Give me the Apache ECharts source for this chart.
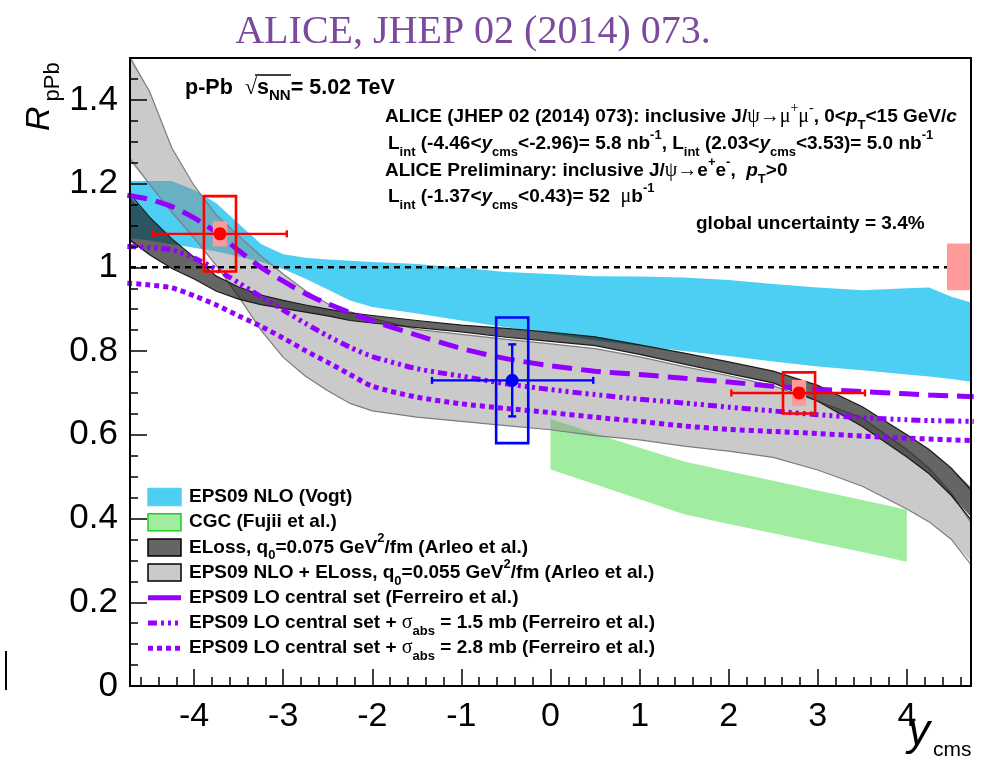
<!DOCTYPE html>
<html>
<head>
<meta charset="utf-8">
<script src="https://cdn.jsdelivr.net/npm/echarts@6/dist/echarts.min.js"></script>
<style>
  html, body { margin: 0; padding: 0; background: #fff; }
  #chart { width: 992px; height: 760px; }
</style>
</head>
<body>
<div id="chart"></div>
<script>
// ---------------------------------------------------------------
// Model predictions for R_pPb of J/psi versus rapidity y_cms
// ---------------------------------------------------------------
const rapidity = [-4.75, -4.5, -4.25, -4.0, -3.75, -3.5, -3.25, -3.0, -2.75, -2.5, -2.25, -2.0,
  -1.5, -1.0, -0.5, 0, 0.5, 1.0, 1.5, 2.0, 2.5, 3.0, 3.5, 4.0, 4.25, 4.5, 4.75];

// EPS09 NLO (Vogt)
const eps09NloUpper = [1.206, 1.206, 1.206, 1.185, 1.153, 1.104, 1.056, 1.031, 1.023, 1.019, 1.016, 1.013,
  1.008, 0.999, 0.989, 0.984, 0.979, 0.978, 0.976, 0.970, 0.960, 0.952, 0.945, 0.950, 0.952, 0.930, 0.914];
const eps09NloLower = [1.070, 1.064, 1.055, 1.047, 1.038, 1.026, 1.013, 0.996, 0.973, 0.947, 0.921, 0.905,
  0.890, 0.873, 0.857, 0.841, 0.825, 0.812, 0.800, 0.788, 0.775, 0.763, 0.754, 0.744, 0.739, 0.733, 0.726];

// ELoss, q0 = 0.075 GeV^2/fm (Arleo et al.)
const elossUpper = [1.175, 1.120, 1.068, 1.024, 0.979, 0.953, 0.934, 0.921, 0.910, 0.900, 0.891, 0.885,
  0.873, 0.862, 0.854, 0.845, 0.834, 0.815, 0.795, 0.774, 0.752, 0.718, 0.667, 0.600, 0.565, 0.520, 0.468];
const elossLower = [1.066, 1.030, 0.997, 0.972, 0.943, 0.924, 0.911, 0.902, 0.893, 0.884, 0.873, 0.867,
  0.856, 0.846, 0.833, 0.823, 0.813, 0.792, 0.769, 0.746, 0.724, 0.680, 0.620, 0.547, 0.507, 0.455, 0.397];

// EPS09 NLO + ELoss, q0 = 0.055 GeV^2/fm (Arleo et al.)
const epsElossUpper = [1.520, 1.420, 1.285, 1.195, 1.125, 1.075, 1.027, 0.984, 0.944, 0.913, 0.894, 0.878,
  0.852, 0.840, 0.828, 0.817, 0.806, 0.786, 0.763, 0.741, 0.717, 0.680, 0.640, 0.565, 0.520, 0.460, 0.390];
const epsElossLower = [1.260, 1.198, 1.131, 1.070, 1.004, 0.930, 0.850, 0.785, 0.740, 0.705, 0.675, 0.657,
  0.642, 0.632, 0.622, 0.612, 0.598, 0.588, 0.573, 0.561, 0.546, 0.516, 0.477, 0.423, 0.392, 0.350, 0.290];

// EPS09 LO central set (Ferreiro et al.), without and with absorption
const loCentral = [1.172, 1.162, 1.145, 1.118, 1.083, 1.040, 1.000, 0.967, 0.937, 0.913, 0.892, 0.872,
  0.838, 0.806, 0.782, 0.765, 0.752, 0.744, 0.735, 0.726, 0.716, 0.709, 0.703, 0.698, 0.695, 0.693, 0.691];
const loAbs15 = [1.050, 1.047, 1.042, 1.022, 0.995, 0.963, 0.930, 0.898, 0.866, 0.836, 0.809, 0.787,
  0.758, 0.740, 0.722, 0.708, 0.696, 0.685, 0.676, 0.666, 0.657, 0.648, 0.641, 0.636, 0.634, 0.633, 0.632];
const loAbs28 = [0.962, 0.958, 0.951, 0.932, 0.910, 0.884, 0.859, 0.831, 0.801, 0.773, 0.744, 0.716,
  0.690, 0.674, 0.663, 0.653, 0.642, 0.632, 0.621, 0.613, 0.608, 0.603, 0.597, 0.592, 0.590, 0.588, 0.586];

// CGC (Fujii et al.)
const cgcRapidity = [0, 0.5, 1.0, 1.5, 2.0, 2.5, 3.0, 3.5, 4.0];
const cgcUpper = [0.638, 0.603, 0.569, 0.536, 0.513, 0.490, 0.467, 0.444, 0.421];
const cgcLower = [0.517, 0.482, 0.446, 0.410, 0.387, 0.365, 0.342, 0.320, 0.297];

// ALICE inclusive J/psi -> mu+mu- (backward, forward)
const muonRap = [-3.71, 2.79];
const muonRapLow = [-4.46, 2.03];
const muonRapHigh = [-2.96, 3.53];
const muonR = [1.08, 0.70];
const muonStat = [0.01, 0.01];
const muonSysUncorr = [0.09, 0.049];
const muonSysCorr = [0.03, 0.031];

// ALICE preliminary inclusive J/psi -> e+e- (mid rapidity)
const eeRap = [-0.43];
const eeRapLow = [-1.33];
const eeRapHigh = [0.48];
const eeR = [0.73];
const eeStat = [0.086];
const eeSys = [0.15];

// global normalisation uncertainty drawn at unity
const globalUncLow = [0.945];
const globalUncHigh = [1.057];

// axes
const xRange = [-4.72, 4.72];
const yRange = [0, 1.5];
const xTickLabels = [-4, -3, -2, -1, 0, 1, 2, 3, 4];
const yTickLabels = [0, 0.2, 0.4, 0.6, 0.8, 1, 1.2, 1.4];

// ---------------------------------------------------------------
const FONT = "'Liberation Sans', Arial, Helvetica, sans-serif";
const SERIF = "'Liberation Serif', 'DejaVu Serif', serif";
const VIOLET = '#9300ff';

const cyanFill = '#4ccff3';
const greenFill = 'rgba(45,212,45,0.45)';
const lightGrayFill = 'rgba(140,140,140,0.46)';
const darkFill = 'rgba(28,28,28,0.68)';

// polygon clipping against the plotting rectangle
function clipPoly(pts, x0, y0, x1, y1) {
  const inside = [p => p[0] >= x0, p => p[0] <= x1, p => p[1] >= y0, p => p[1] <= y1];
  const cut = [
    (a, b) => [x0, a[1] + (x0 - a[0]) / (b[0] - a[0]) * (b[1] - a[1])],
    (a, b) => [x1, a[1] + (x1 - a[0]) / (b[0] - a[0]) * (b[1] - a[1])],
    (a, b) => [a[0] + (y0 - a[1]) / (b[1] - a[1]) * (b[0] - a[0]), y0],
    (a, b) => [a[0] + (y1 - a[1]) / (b[1] - a[1]) * (b[0] - a[0]), y1]
  ];
  let out = pts;
  for (let k = 0; k < 4; k++) {
    const inp = out; out = [];
    for (let i = 0; i < inp.length; i++) {
      const cur = inp[i], prev = inp[(i + inp.length - 1) % inp.length];
      const ci = inside[k](cur), pi = inside[k](prev);
      if (ci) { if (!pi) out.push(cut[k](prev, cur)); out.push(cur); }
      else if (pi) out.push(cut[k](prev, cur));
    }
  }
  return out;
}

function band(name, xs, upper, lower, fill, edge, z) {
  return {
    type: 'custom', name, z, silent: true,
    data: [0],
    renderItem(params, api) {
      const up = xs.map((x, i) => api.coord([x, upper[i]]));
      const lo = xs.map((x, i) => api.coord([x, lower[i]]));
      const cs = params.coordSys;
      const rect = { x: cs.x, y: cs.y, width: cs.width, height: cs.height };
      const poly = clipPoly(up.concat(lo.slice().reverse()), cs.x, cs.y, cs.x + cs.width, cs.y + cs.height);
      const children = [{ type: 'polygon', shape: { points: poly }, style: { fill, stroke: null } }];
      if (edge) {
        [up, lo].forEach(line => children.push({
          type: 'polyline',
          shape: { points: echarts.graphic.clipPointsByRect(line, rect) },
          style: { stroke: edge, lineWidth: 1.2, fill: null }
        }));
      }
      return { type: 'group', children };
    }
  };
}

function curve(name, ys, dash, z) {
  return {
    type: 'line', name, z, silent: true,
    data: rapidity.map((x, i) => [x, ys[i]]),
    symbol: 'none', smooth: 0.25,
    lineStyle: { color: VIOLET, width: 5, type: dash, cap: 'butt' }
  };
}

function measurements(name, color, rows, z) {
  return {
    type: 'custom', name, z, silent: true,
    data: rows,
    renderItem(params, api) {
      const x = api.value(0), y = api.value(1), st = api.value(2), su = api.value(3),
        sc = api.value(4), xl = api.value(5), xh = api.value(6);
      const ch = [];
      if (sc > 0) {
        const a = api.coord([x - 0.08, y + sc]), b = api.coord([x + 0.08, y - sc]);
        ch.push({ type: 'rect', shape: { x: a[0], y: a[1], width: b[0] - a[0], height: b[1] - a[1] }, style: { fill: '#ff9a9a' } });
      }
      const a = api.coord([x - 0.18, y + su]), b = api.coord([x + 0.18, y - su]);
      ch.push({ type: 'rect', shape: { x: a[0], y: a[1], width: b[0] - a[0], height: b[1] - a[1] }, style: { fill: null, stroke: color, lineWidth: 2.6 } });
      const l = api.coord([xl, y]), r = api.coord([xh, y]);
      const ls = { stroke: color, lineWidth: 2.4 };
      ch.push({ type: 'line', shape: { x1: l[0], y1: l[1], x2: r[0], y2: r[1] }, style: ls });
      ch.push({ type: 'line', shape: { x1: l[0], y1: l[1] - 3.5, x2: l[0], y2: l[1] + 3.5 }, style: ls });
      ch.push({ type: 'line', shape: { x1: r[0], y1: r[1] - 3.5, x2: r[0], y2: r[1] + 3.5 }, style: ls });
      const t = api.coord([x, y + st]), d = api.coord([x, y - st]);
      ch.push({ type: 'line', shape: { x1: t[0], y1: t[1], x2: d[0], y2: d[1] }, style: ls });
      ch.push({ type: 'line', shape: { x1: t[0] - 4, y1: t[1], x2: t[0] + 4, y2: t[1] }, style: ls });
      ch.push({ type: 'line', shape: { x1: d[0] - 4, y1: d[1], x2: d[0] + 4, y2: d[1] }, style: ls });
      const c = api.coord([x, y]);
      ch.push({ type: 'circle', shape: { cx: c[0], cy: c[1], r: 6.5 }, style: { fill: color } });
      return { type: 'group', children: ch };
    }
  };
}

const muonRows = muonRap.map((x, i) => [x, muonR[i], muonStat[i], muonSysUncorr[i], muonSysCorr[i], muonRapLow[i], muonRapHigh[i]]);
const eeRows = eeRap.map((x, i) => [x, eeR[i], eeStat[i], eeSys[i], 0, eeRapLow[i], eeRapHigh[i]]);

// minor tick positions
const xMinor = [], yMinor = [];
for (let v = -46; v <= 46; v += 2) if (v % 10 !== 0) xMinor.push(v / 10);
for (let v = 5; v <= 145; v += 5) if (v % 20 !== 0) yMinor.push(v / 100);

// ---------------------------------------------------------------
// rich text helpers (sub- and superscripts)
function richStyles(size) {
  const base = { fontFamily: FONT, fontWeight: 'bold', fontSize: size, lineHeight: 30, verticalAlign: 'middle', fill: '#000' };
  const small = Math.round(size * 0.68);
  return {
    b: base,
    i: Object.assign({}, base, { fontStyle: 'italic' }),
    g: { fontFamily: SERIF, fontSize: size + 1, lineHeight: 30, verticalAlign: 'middle', fill: '#000' },
    gs: { fontFamily: SERIF, fontSize: small + 1, lineHeight: 20, verticalAlign: 'top', fill: '#000' },
    sub: { fontFamily: FONT, fontWeight: 'bold', fontSize: small, lineHeight: 14, verticalAlign: 'bottom', fill: '#000' },
    sup: { fontFamily: FONT, fontWeight: 'bold', fontSize: small, lineHeight: 20, verticalAlign: 'top', fill: '#000' }
  };
}
function mk(s) {
  return s.split(/(\{[a-z]+\|[^}]*\})/).filter(p => p.length).map(p => p[0] === '{' ? p : '{b|' + p + '}').join('');
}
function label(x, y, s, size) {
  return {
    type: 'text', x, y, z: 100, silent: true,
    style: { text: mk(s), rich: richStyles(size || 19), align: 'left', verticalAlign: 'middle' }
  };
}

const legendRows = [
  { kind: 'box', fill: cyanFill, stroke: '#5ad0f2', text: 'EPS09 NLO (Vogt)' },
  { kind: 'box', fill: greenFill, stroke: '#22cc22', text: 'CGC (Fujii et al.)' },
  { kind: 'box', fill: darkFill, stroke: '#000', text: 'ELoss, q{sub|0}=0.075 GeV{sup|2}/fm (Arleo et al.)' },
  { kind: 'box', fill: lightGrayFill, stroke: '#000', text: 'EPS09 NLO + ELoss, q{sub|0}=0.055 GeV{sup|2}/fm (Arleo et al.)' },
  { kind: 'line', dash: null, text: 'EPS09 LO central set (Ferreiro et al.)' },
  { kind: 'line', dash: [9, 4, 3, 4, 3, 4, 3, 4], text: 'EPS09 LO central set + {g|σ}{sub|abs} = 1.5 mb (Ferreiro et al.)' },
  { kind: 'line', dash: [5, 4], text: 'EPS09 LO central set + {g|σ}{sub|abs} = 2.8 mb (Ferreiro et al.)' }
];
const legendGraphics = [];
legendRows.forEach((row, i) => {
  const cy = 497 + i * 25.2;
  if (row.kind === 'box') {
    legendGraphics.push({ type: 'rect', z: 100, silent: true, shape: { x: 148, y: cy - 8.5, width: 33, height: 17 }, style: { fill: row.fill, stroke: row.stroke, lineWidth: 1.5 } });
  } else {
    legendGraphics.push({ type: 'line', z: 100, silent: true, shape: { x1: 148, y1: cy, x2: 181, y2: cy }, style: { stroke: VIOLET, lineWidth: 5, lineDash: row.dash } });
  }
  legendGraphics.push(label(189, cy, row.text, 19));
});

const texts = [
  // title
  { type: 'text', x: 473, y: 32, z: 100, silent: true, style: { text: 'ALICE, JHEP 02 (2014) 073.', font: "40px 'Liberation Serif', 'Times New Roman', serif", fill: '#7b4a9f', align: 'center', verticalAlign: 'middle' } },
  label(185, 88.5, 'p-Pb  {g|√}s{sub|NN}= 5.02 TeV', 21.5),
  label(385, 116.5, 'ALICE (JHEP 02 (2014) 073): inclusive J/{g|ψ}{g|→}{g|μ}{gs|+}{g|μ}{gs|-}, 0<{i|p}{sub|T}<15 GeV/{i|c}', 19),
  label(388, 143.5, 'L{sub|int} (-4.46<{i|y}{sub|cms}<-2.96)= 5.8 nb{sup|-1}, L{sub|int} (2.03<{i|y}{sub|cms}<3.53)= 5.0 nb{sup|-1}', 19),
  label(385, 170.5, 'ALICE Preliminary: inclusive J/{g|ψ}{g|→}e{sup|+}e{sup|-},  {i|p}{sub|T}>0', 19),
  label(388, 196.5, 'L{sub|int} (-1.37<{i|y}{sub|cms}<0.43)= 52  {g|μ}b{sup|-1}', 19),
  label(696, 223.5, 'global uncertainty = 3.4%', 19),
  // axis titles
  {
    type: 'text', x: 40, y: 131, rotation: Math.PI / 2, z: 100, silent: true,
    style: {
      text: '{r|R}{s|pPb}', align: 'left', verticalAlign: 'middle',
      rich: {
        r: { fontFamily: FONT, fontStyle: 'italic', fontSize: 34, lineHeight: 48, verticalAlign: 'middle', fill: '#000' },
        s: { fontFamily: FONT, fontSize: 22, lineHeight: 22, verticalAlign: 'bottom', fill: '#000', padding: [0, 0, 0, 5] }
      }
    }
  },
  {
    type: 'text', x: 908, y: 733, z: 100, silent: true,
    style: {
      text: '{y|y}{s|cms}', align: 'left', verticalAlign: 'middle',
      rich: {
        y: { fontFamily: FONT, fontStyle: 'italic', fontSize: 44, lineHeight: 56, verticalAlign: 'middle', fill: '#000' },
        s: { fontFamily: FONT, fontSize: 21, lineHeight: 20, verticalAlign: 'bottom', fill: '#000', padding: [0, 0, 0, 3] }
      }
    }
  },
  // overline of the square root
  { type: 'line', z: 100, silent: true, shape: { x1: 255, y1: 75, x2: 291, y2: 75 }, style: { stroke: '#000', lineWidth: 1.3 } },
  // stray mark at the lower left
  { type: 'line', z: 100, silent: true, shape: { x1: 6, y1: 651, x2: 6, y2: 690 }, style: { stroke: '#000', lineWidth: 2 } }
];

// ---------------------------------------------------------------
const axisCommon = { type: 'value', splitLine: { show: false }, z: 20 };
const option = {
  animation: false,
  backgroundColor: '#fff',
  grid: { left: 130, right: 21, top: 58, bottom: 74, show: true, borderColor: '#000', borderWidth: 2, backgroundColor: 'transparent', z: 20, outerBoundsMode: 'none' },
  xAxis: [
    Object.assign({}, axisCommon, {
      min: xRange[0], max: xRange[1], position: 'bottom',
      axisLine: { show: true, onZero: false, lineStyle: { color: '#000', width: 2 } },
      axisTick: { show: true, inside: true, length: 17, customValues: xTickLabels, lineStyle: { color: '#000', width: 1.5 } },
      axisLabel: { show: true, customValues: xTickLabels, margin: 14, color: '#000', fontFamily: FONT, fontSize: 34 }
    }),
    Object.assign({}, axisCommon, {
      min: xRange[0], max: xRange[1], position: 'bottom',
      axisLine: { show: false, onZero: false },
      axisTick: { show: true, inside: true, length: 9, customValues: xMinor, lineStyle: { color: '#000', width: 1.5 } },
      axisLabel: { show: false }
    })
  ],
  yAxis: [
    Object.assign({}, axisCommon, {
      min: yRange[0], max: yRange[1], position: 'left',
      axisLine: { show: true, onZero: false, lineStyle: { color: '#000', width: 2 } },
      axisTick: { show: true, inside: true, length: 17, customValues: yTickLabels, lineStyle: { color: '#000', width: 1.5 } },
      axisLabel: { show: true, customValues: yTickLabels, margin: 12, color: '#000', fontFamily: FONT, fontSize: 35 }
    }),
    Object.assign({}, axisCommon, {
      min: yRange[0], max: yRange[1], position: 'left',
      axisLine: { show: false, onZero: false },
      axisTick: { show: true, inside: true, length: 8, customValues: yMinor, lineStyle: { color: '#000', width: 1.5 } },
      axisLabel: { show: false }
    })
  ],
  series: [
    band('EPS09 NLO (Vogt)', rapidity, eps09NloUpper, eps09NloLower, cyanFill, null, 1),
    band('CGC (Fujii et al.)', cgcRapidity, cgcUpper, cgcLower, greenFill, null, 2),
    band('EPS09 NLO + ELoss', rapidity, epsElossUpper, epsElossLower, lightGrayFill, '#7c7c7c', 3),
    band('ELoss', rapidity, elossUpper, elossLower, darkFill, '#1a1a1a', 4),
    {
      type: 'line', name: 'unity', z: 5, silent: true,
      data: [[xRange[0], 1], [xRange[1], 1]], symbol: 'none',
      lineStyle: { color: '#000', width: 2.5, type: [6, 5] }
    },
    curve('EPS09 LO central set', loCentral, [20, 9], 6),
    curve('EPS09 LO + 1.5 mb', loAbs15, [9, 4, 3, 4, 3, 4, 3, 4], 6),
    curve('EPS09 LO + 2.8 mb', loAbs28, [5, 4], 6),
    {
      type: 'custom', name: 'global uncertainty', z: 7, silent: true,
      data: globalUncLow.map((v, i) => [v, globalUncHigh[i]]),
      renderItem(params, api) {
        const a = api.coord([4.45, api.value(1)]), b = api.coord([xRange[1], api.value(0)]);
        return { type: 'rect', shape: { x: a[0], y: a[1], width: b[0] - a[0], height: b[1] - a[1] }, style: { fill: '#ff9a9a' } };
      }
    },
    measurements('ALICE mu+mu-', '#ff0000', muonRows, 8),
    measurements('ALICE e+e-', '#0000ff', eeRows, 8)
  ],
  graphic: { elements: texts.concat(legendGraphics) }
};

const chart = echarts.init(document.getElementById('chart'), null, { renderer: 'canvas' });
chart.setOption(option);
</script>
</body>
</html>
